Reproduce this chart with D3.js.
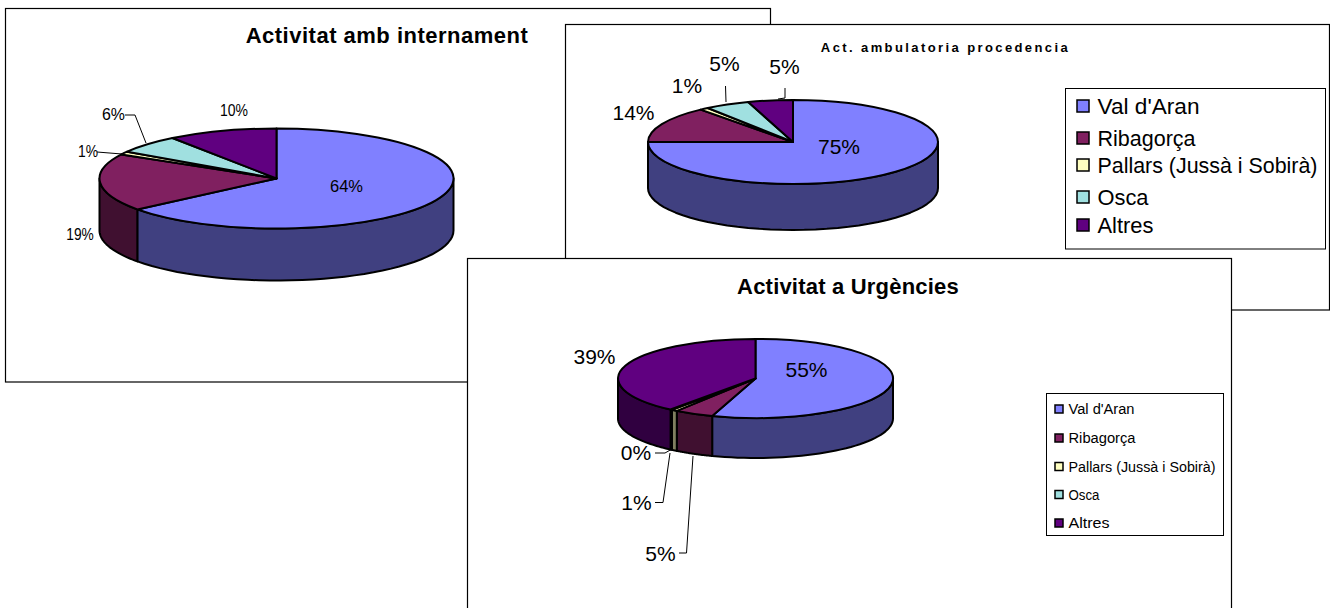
<!DOCTYPE html>
<html>
<head>
<meta charset="utf-8">
<script src="https://cdn.jsdelivr.net/npm/d3@7"></script>
<style>
  html, body { margin: 0; padding: 0; background: #fff; }
  svg { display: block; font-family: "Liberation Sans", Arial, sans-serif; }
</style>
</head>
<body>
<svg id="chart" width="1330" height="608"></svg>
<script>
// Data
const categories = ["Val d'Aran", 'Ribagorça', 'Pallars (Jussà i Sobirà)', 'Osca', 'Altres'];
const colors = ['#8080ff', '#802060', '#ffffc0', '#a0e0e0', '#600080'];
const internamentValues = [64.4, 18.6, 1, 6, 10];
const ambulatoriaValues = [75, 14, 1, 5, 5];
const urgenciesValues = [55.1, 4.6, 0.7, 0.2, 39.4];

const svg = d3.select('#chart');
const pie = d3.pie().sort(null);
const unitArc = d3.arc().innerRadius(0).outerRadius(1);
const percent = (v, values) => `${Math.round((v / d3.sum(values)) * 100)}%`;

// The side walls are the face colours at half brightness
function shade(c) {
  const r = d3.rgb(c);
  return d3.rgb(r.r / 2, r.g / 2, r.b / 2).formatHex();
}

// Draws one chart sheet: frame, title, 3D pie, labels and optional legend
function drawSheet(o) {
  const g = svg.append('g');

  g.append('rect')
    .attr('x', o.frame[0])
    .attr('y', o.frame[1])
    .attr('width', o.frame[2])
    .attr('height', o.frame[3])
    .attr('fill', '#fff')
    .attr('stroke', '#000')
    .attr('stroke-width', 1.2);

  g.append('text')
    .attr('x', o.titleX)
    .attr('y', o.titleY)
    .attr('text-anchor', 'middle')
    .attr('font-weight', 'bold')
    .attr('font-size', o.titleSize)
    .attr('letter-spacing', o.titleSpacing)
    .text(o.title);

  const { cx, cy, rx, ry, depth } = o.pie;
  const slices = pie(o.values);

  // Side wall: only the part of each slice on the front half of the ellipse
  const wall = d3
    .area()
    .x((a) => cx + rx * Math.sin(a))
    .y0((a) => cy - ry * Math.cos(a))
    .y1((a) => cy - ry * Math.cos(a) + depth);

  slices.forEach((s) => {
    const a0 = Math.max(s.startAngle, Math.PI / 2);
    const a1 = Math.min(s.endAngle, (3 * Math.PI) / 2);
    if (a1 <= a0) return;
    const steps = d3.range(0, 41).map((i) => a0 + ((a1 - a0) * i) / 40);
    g.append('path')
      .attr('d', wall(steps))
      .attr('fill', shade(colors[s.index]))
      .attr('stroke', '#000')
      .attr('stroke-width', 2)
      .attr('stroke-linejoin', 'round');
  });

  // Top face
  g.append('g')
    .attr('transform', `translate(${cx},${cy}) scale(${rx},${ry})`)
    .selectAll('path')
    .data(slices)
    .join('path')
    .attr('d', unitArc)
    .attr('fill', (d) => colors[d.index])
    .attr('stroke', '#000')
    .attr('stroke-width', 2)
    .attr('stroke-linejoin', 'round')
    .attr('vector-effect', 'non-scaling-stroke');

  // Leader lines
  g.append('g')
    .selectAll('polyline')
    .data(o.leaders)
    .join('polyline')
    .attr('points', (d) => d.join(' '))
    .attr('fill', 'none')
    .attr('stroke', '#000')
    .attr('stroke-width', 1);

  // Percentage labels
  const labels = g
    .append('g')
    .selectAll('text')
    .data(slices)
    .join('text')
    .attr('x', (d) => o.labelPos[d.index][0])
    .attr('y', (d) => o.labelPos[d.index][1])
    .attr('dy', '0.36em')
    .attr('text-anchor', 'middle')
    .attr('font-size', o.labelSize)
    .text((d) => percent(d.value, o.values));
  if (o.labelWidths) {
    labels
      .attr('textLength', (d) => o.labelWidths[d.index])
      .attr('lengthAdjust', 'spacingAndGlyphs');
  }

  if (o.legend) drawLegend(g, o.legend);
}

function drawLegend(g, l) {
  g.append('rect')
    .attr('x', l.box[0])
    .attr('y', l.box[1])
    .attr('width', l.box[2])
    .attr('height', l.box[3])
    .attr('fill', '#fff')
    .attr('stroke', '#000')
    .attr('stroke-width', 1);

  const rows = g.append('g').selectAll('g').data(categories).join('g');
  rows
    .append('rect')
    .attr('x', l.swatchX)
    .attr('y', (d, i) => l.rowY[i] - l.swatch / 2)
    .attr('width', l.swatch)
    .attr('height', l.swatch)
    .attr('fill', (d, i) => colors[i])
    .attr('stroke', '#000')
    .attr('stroke-width', l.swatchStroke);
  rows
    .append('text')
    .attr('x', l.textX)
    .attr('y', (d, i) => l.rowY[i])
    .attr('dy', '0.36em')
    .attr('font-size', l.size)
    .attr('textLength', (d, i) => l.widths[i])
    .attr('lengthAdjust', 'spacingAndGlyphs')
    .text((d) => d);
}

drawSheet({
  frame: [5.5, 8.5, 765, 373.5],
  title: 'Activitat amb internament',
  titleX: 387,
  titleY: 43,
  titleSize: 22,
  titleSpacing: 0.5,
  values: internamentValues,
  pie: { cx: 276.5, cy: 178.5, rx: 177, ry: 50, depth: 52 },
  labelSize: 16,
  labelPos: [[346.5, 186], [80, 234], [88, 151], [113.5, 114], [234, 110]],
  labelWidths: [33, 27.5, 20, 23, 28],
  leaders: [
    [[97, 152], [122, 154]],
    [[125, 115], [135, 115], [146, 143]],
  ],
});

drawSheet({
  frame: [565.5, 24.5, 764, 285.5],
  title: 'Act. ambulatoria procedencia',
  titleX: 945.5,
  titleY: 51.5,
  titleSize: 13,
  titleSpacing: 2.4,
  values: ambulatoriaValues,
  pie: { cx: 793, cy: 142, rx: 145, ry: 42, depth: 46 },
  labelSize: 21,
  labelPos: [[839, 146], [633.5, 112], [687, 85], [724.5, 63], [784.5, 66]],
  leaders: [
    [[725.5, 86], [726, 102]],
    [[785, 88], [785, 98], [778, 99]],
  ],
  legend: {
    box: [1065.5, 88.5, 260, 160.5],
    swatchX: 1077,
    swatch: 12,
    swatchStroke: 1.5,
    textX: 1097.5,
    size: 22,
    widths: [102, 98, 220, 51, 56],
    rowY: [106, 138, 165, 197, 225],
  },
});

drawSheet({
  frame: [467.5, 258.5, 764, 360],
  title: 'Activitat a Urgències',
  titleX: 848,
  titleY: 293.5,
  titleSize: 22,
  titleSpacing: 0.2,
  values: urgenciesValues,
  pie: { cx: 755.5, cy: 378.5, rx: 137.5, ry: 39.5, depth: 40 },
  labelSize: 21,
  labelPos: [[806.5, 369], [660.5, 553], [636.5, 502], [636, 452], [594.5, 356]],
  leaders: [
    [[655, 453], [665, 453], [672, 449]],
    [[655, 502.5], [663, 502.5], [670, 453]],
    [[679, 553], [686.5, 553], [693, 456]],
  ],
  legend: {
    box: [1046.5, 393.5, 177, 142],
    swatchX: 1055,
    swatch: 8,
    swatchStroke: 1.5,
    textX: 1068.5,
    size: 14,
    widths: [66, 67, 147, 31, 41],
    rowY: [409, 438, 466.5, 494.5, 523],
  },
});
</script>
</body>
</html>
